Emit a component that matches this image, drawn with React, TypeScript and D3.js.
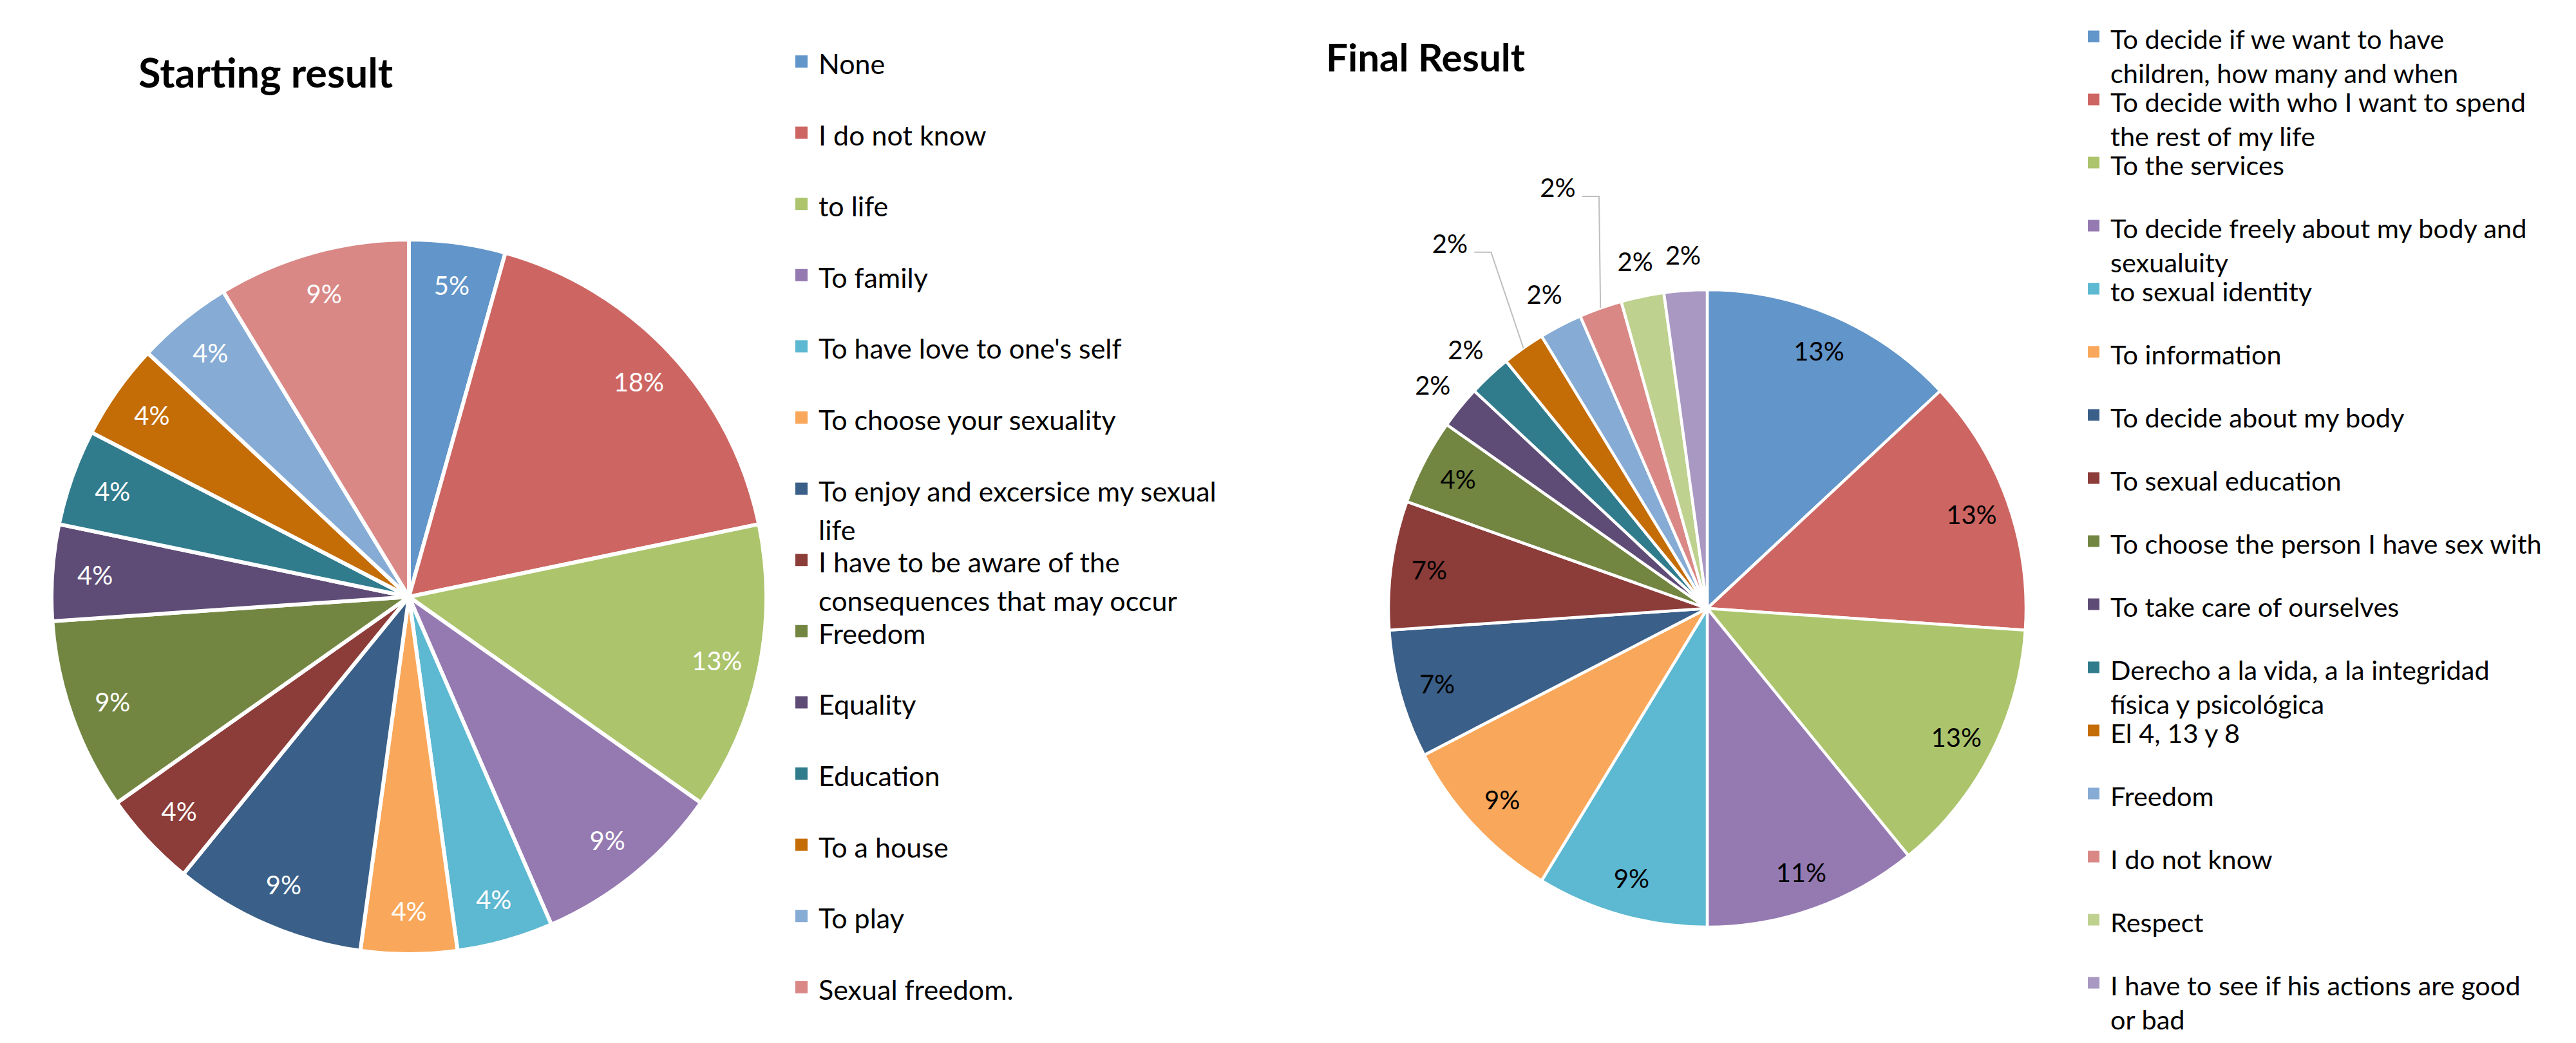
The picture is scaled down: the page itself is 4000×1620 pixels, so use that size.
import { useEffect, useRef } from 'react';
import * as d3 from 'd3';

const WIDTH = 4000;
const HEIGHT = 1620;
const FONT = 'Lato, "Open Sans", sans-serif';

// Starting result (counts, labels as printed)
const startCategories = [
  'None',
  'I do not know',
  'to life',
  'To family',
  "To have love to one's self",
  'To choose your sexuality',
  'To enjoy and excersice my sexual\nlife',
  'I have to be aware of the\nconsequences that may occur',
  'Freedom',
  'Equality',
  'Education',
  'To a house',
  'To play',
  'Sexual freedom.',
];
const startValues = [1, 4, 3, 2, 1, 1, 2, 1, 2, 1, 1, 1, 1, 2];
const startLabels = ['5%', '18%', '13%', '9%', '4%', '4%', '9%', '4%', '9%', '4%', '4%', '4%', '4%', '9%'];

// Final result
const finalCategories = [
  'To decide if we want to have\nchildren, how many and when',
  'To decide with who I want to spend\nthe rest of my life',
  'To the services',
  'To decide freely about my body and\nsexualuity',
  'to sexual identity',
  'To information',
  'To decide about my body',
  'To sexual education',
  'To choose the person I have sex with',
  'To take care of ourselves',
  'Derecho a la vida, a la integridad\nfísica y psicológica',
  'El 4, 13 y 8',
  'Freedom',
  'I do not know',
  'Respect',
  'I have to see if his actions are good\nor bad',
];
const finalValues = [6, 6, 6, 5, 4, 4, 3, 3, 2, 1, 1, 1, 1, 1, 1, 1];
const finalLabels = ['13%', '13%', '13%', '11%', '9%', '9%', '7%', '7%', '4%', '2%', '2%', '2%', '2%', '2%', '2%', '2%'];

const palette = [
  '#6295C9', '#CD6662', '#ACC46C', '#957AB1', '#5DB8D1', '#F9A75A',
  '#3A5F88', '#8C3C39', '#738641', '#5E4C76', '#307C8D', '#C46C05',
  '#86ABD4', '#D98886', '#BED18F', '#A898C2',
];

interface Panel {
  title: string;
  categories: string[];
  values: number[];
  labels: string[];
  cx: number;
  cy: number;
  r: number;
  stroke: number;
  labelColor: string;
  titleX: number;
  titleY: number;
  titleFont: number;
  legendX: number;
  legendY: number;
  legendPitch: number;
  legendLine: number;
  legendFont: number;
  swatch: number;
}

const panels: Panel[] = [
  {
    title: 'Starting result',
    categories: startCategories,
    values: startValues,
    labels: startLabels,
    cx: 635, cy: 927, r: 555, stroke: 6, labelColor: '#ffffff',
    titleX: 215, titleY: 136, titleFont: 63,
    legendX: 1235, legendY: 115, legendPitch: 110.6, legendLine: 60, legendFont: 43, swatch: 19,
  },
  {
    title: 'Final Result',
    categories: finalCategories,
    values: finalValues,
    labels: finalLabels,
    cx: 2651, cy: 945, r: 495, stroke: 4.5, labelColor: '#000000',
    titleX: 2059, titleY: 111, titleFont: 60,
    legendX: 3242, legendY: 75.5, legendPitch: 98, legendLine: 53, legendFont: 41.5, swatch: 18,
  },
];

function drawPanel(root: d3.Selection<SVGSVGElement, unknown, null, undefined>, p: Panel) {
  const g = root.append('g');
  const total = d3.sum(p.values);
  const color = d3.scaleOrdinal<string, string>().domain(p.categories).range(palette);

  // Title
  g.append('text')
    .attr('x', p.titleX)
    .attr('y', p.titleY)
    .attr('font-family', FONT)
    .attr('font-weight', 700)
    .attr('font-size', p.titleFont)
    .attr('fill', '#000')
    .text(p.title);

  const pie = d3.pie<number>().sort(null).value((d) => d);
  const arcs = pie(p.values);
  const arc = d3.arc<d3.PieArcDatum<number>>().innerRadius(0).outerRadius(p.r);
  const labelArc = d3.arc<d3.PieArcDatum<number>>().innerRadius(p.r * 0.88).outerRadius(p.r * 0.88);

  const pieG = g.append('g').attr('transform', `translate(${p.cx},${p.cy})`);

  pieG.selectAll('path')
    .data(arcs)
    .join('path')
    .attr('d', arc)
    .attr('fill', (_, i) => color(p.categories[i]))
    .attr('stroke', '#fff')
    .attr('stroke-width', p.stroke)
    .attr('stroke-linejoin', 'round');

  // Data labels: inside for normal slices, outside (best fit) for tiny ones
  const boxW = 72;
  const boxH = 50;
  const placed: { x: number; y: number }[] = [];
  arcs.forEach((d, i) => {
    const share = d.value / total;
    const mid = (d.startAngle + d.endAngle) / 2;
    let x: number;
    let y: number;
    let leader = false;
    if (share >= 0.03) {
      [x, y] = labelArc.centroid(d);
    } else {
      const at = (k: number) => [Math.sin(mid) * p.r * k, -Math.cos(mid) * p.r * k];
      [x, y] = at(1.11);
      const hit = placed.some((q) => Math.abs(q.x - x) < boxW && Math.abs(q.y - y) < boxH);
      if (hit) {
        [x, y] = at(1.4);
        leader = true;
      }
      placed.push({ x, y });
    }

    if (leader) {
      const [ex, ey] = [Math.sin(mid) * p.r, -Math.cos(mid) * p.r];
      const sx = x + 38;
      const sy = y + 13;
      pieG.append('path')
        .attr('d', d3.line()([[sx, sy], [sx + 26, sy], [ex, ey]]))
        .attr('fill', 'none')
        .attr('stroke', '#BFBFBF')
        .attr('stroke-width', 2);
    }

    pieG.append('text')
      .attr('x', x)
      .attr('y', y)
      .attr('dy', '0.36em')
      .attr('text-anchor', 'middle')
      .attr('font-family', FONT)
      .attr('font-size', 40)
      .attr('fill', share >= 0.03 ? p.labelColor : '#000')
      .text(p.labels[i]);
  });

  // Legend
  const rowY = d3.scaleLinear()
    .domain([0, p.categories.length - 1])
    .range([p.legendY, p.legendY + (p.categories.length - 1) * p.legendPitch]);

  const rows = g.selectAll('g.legend-row')
    .data(p.categories)
    .join('g')
    .attr('class', 'legend-row')
    .attr('transform', (_, i) => `translate(${p.legendX},${rowY(i)})`);

  rows.append('rect')
    .attr('x', 0)
    .attr('y', -p.swatch - 10)
    .attr('width', p.swatch)
    .attr('height', p.swatch)
    .attr('fill', (d) => color(d));

  rows.append('text')
    .attr('font-family', FONT)
    .attr('font-size', p.legendFont)
    .attr('fill', '#000')
    .each(function (d) {
      const t = d3.select(this);
      d.split('\n').forEach((line, k) => {
        t.append('tspan')
          .attr('x', p.swatch + 17)
          .attr('y', k * p.legendLine)
          .text(line);
      });
    });
}

export default function App() {
  const svgRef = useRef<SVGSVGElement>(null);

  useEffect(() => {
    document.body.style.margin = '0';
    const svg = svgRef.current;
    if (!svg) return;
    const root = d3.select(svg);
    root.selectAll('*').remove();
    root.attr('width', WIDTH).attr('height', HEIGHT).attr('viewBox', `0 0 ${WIDTH} ${HEIGHT}`);
    root.append('rect').attr('width', WIDTH).attr('height', HEIGHT).attr('fill', '#fff');
    panels.forEach((p) => drawPanel(root, p));
  }, []);

  return <svg ref={svgRef} style={{ display: 'block' }} />;
}
